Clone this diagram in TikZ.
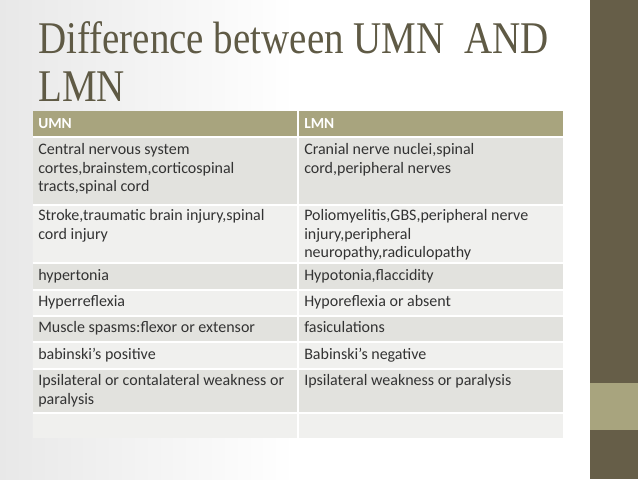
\documentclass[tikz,border=0pt]{standalone}
\usepackage{fontspec}
\setmainfont{Carlito}
\newfontfamily\ttlfont{Liberation Serif}
\begin{document}
\begin{tikzpicture}[x=0.75pt,y=-0.75pt,
 cell/.style={anchor=north west,inner sep=0pt,align=left,font=\fontsize{12}{14}\selectfont,text=black!80},
 hcell/.style={anchor=west,inner sep=0pt,font=\fontsize{11.5}{13}\selectfont\bfseries,text=white}]
\definecolor{hdr}{HTML}{A8A47E}
\definecolor{rowA}{HTML}{E2E2DE}
\definecolor{rowB}{HTML}{F0F0EE}
\definecolor{ttl}{HTML}{5F5A45}
\definecolor{bar}{HTML}{665E48}
\shade[left color=black!9,right color=white,middle color=white] (0,0) rectangle (590,479);
\useasboundingbox (0,0) rectangle (638,479);
\fill[bar] (590,0) rectangle (638,479);
\fill[hdr] (590,383) rectangle (638,430);
\node[anchor=base west,inner sep=0pt,text=ttl,font=\ttlfont\fontsize{34}{36}\selectfont] (t1) at (38,53) {\scalebox{0.86}[1]{Difference between UMN\ \ AND}};
\node[anchor=base west,inner sep=0pt,text=ttl,font=\ttlfont\fontsize{34}{36}\selectfont] (t2) at (38,101) {\scalebox{0.86}[1]{LMN}};
\fill[hdr] (33,111) rectangle (563,137);
\def\rows{137/205/rowA,205/263/rowB,263/290/rowA,290/316/rowB,316/342/rowA,342/369/rowB,369/413/rowA,413/438/rowB}
\foreach \a/\b/\c in \rows {\fill[\c] (33,\a) rectangle (563,\b);}
\foreach \y in {137,205,263,290,316,342,369,413} \draw[white,line width=1.2pt] (33,\y) -- (563,\y);
\draw[white,line width=1.2pt] (298,111) -- (298,438);
\node[hcell] (h1) at (38,124) {UMN};
\node[hcell] (h2) at (304,124) {LMN};
\begin{scope}[every node/.style={cell}]
\node (a1) at (38,143) {Central nervous system\\cortes,brainstem,corticospinal\\tracts,spinal cord};
\node (b1) at (304,143) {Cranial nerve nuclei,spinal\\cord,peripheral nerves};
\node (a2) at (38,209) {Stroke,traumatic brain injury,spinal\\cord injury};
\node (b2) at (304,209) {Poliomyelitis,GBS,peripheral nerve\\injury,peripheral\\neuropathy,radiculopathy};
\node (a3) at (38,269) {hypertonia};
\node (b3) at (304,269) {Hypotonia,flaccidity};
\node (a4) at (38,295) {Hyperreflexia};
\node (b4) at (304,295) {Hyporeflexia or absent};
\node (a5) at (38,321) {Muscle spasms:flexor or extensor};
\node (b5) at (304,321) {fasiculations};
\node (a6) at (38,348) {babinski’s positive};
\node (b6) at (304,348) {Babinski’s negative};
\node (a7) at (38,374) {Ipsilateral or contalateral weakness or\\paralysis};
\node (b7) at (304,374) {Ipsilateral weakness or paralysis};
\end{scope}
\end{tikzpicture}
\end{document}
